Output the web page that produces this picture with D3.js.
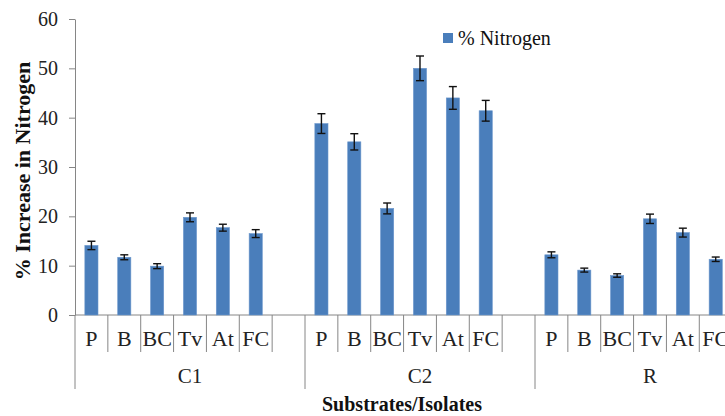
<!DOCTYPE html>
<html>
<head>
<meta charset="utf-8">
<script src="https://cdnjs.cloudflare.com/ajax/libs/d3/7.8.5/d3.min.js"></script>
<style>
  body { margin: 0; background: #fff; }
</style>
</head>
<body>
<div id="chart"></div>
<script>
// data
const groups = ["C1", "C2", "R"];
const isolates = ["P", "B", "BC", "Tv", "At", "FC"];
const nitrogenC1 = [14.1, 11.7, 9.9, 19.8, 17.7, 16.5];
const nitrogenC2 = [38.8, 35.1, 21.6, 50.0, 44.0, 41.4];
const nitrogenR = [12.2, 9.1, 8.0, 19.5, 16.7, 11.3];
const errC1 = [0.85, 0.5, 0.5, 0.9, 0.7, 0.8];
const errC2 = [2.0, 1.65, 1.1, 2.5, 2.3, 2.1];
const errR = [0.6, 0.4, 0.35, 0.95, 0.9, 0.45];
const yTicks = [0, 10, 20, 30, 40, 50, 60];

var width = 725;
var height = 416;
var serif = "'Liberation Serif', 'Times New Roman', serif";

var svg = d3.select("#chart")
    .append("svg")
    .attr("width", width)
    .attr("height", height)
    .style("display", "block");

var values = [nitrogenC1, nitrogenC2, nitrogenR];
var errors = [errC1, errC2, errR];
var data = [];
groups.forEach(function (g, gi) {
    isolates.forEach(function (iso, i) {
        data.push({ group: g, isolate: iso, value: values[gi][i], err: errors[gi][i] });
    });
});

// each group has 6 isolates plus one empty slot, plot runs past the right edge
var slots = isolates.concat([""]);

var x0 = d3.scaleBand()
    .domain(groups)
    .range([75, 765]);

var x1 = d3.scaleBand()
    .domain(slots)
    .range([0, x0.bandwidth()]);

var y = d3.scaleLinear()
    .domain([0, 60])
    .range([315, 19]);

var axisColor = "#868686";

// y axis
var yAxis = svg.append("g")
    .attr("transform", "translate(75,0)")
    .call(d3.axisLeft(y).tickValues(yTicks).tickSize(6).tickPadding(11).tickSizeOuter(0));
yAxis.attr("font-family", serif);
yAxis.select(".domain").attr("stroke", axisColor);
yAxis.selectAll(".tick line").attr("stroke", axisColor);
yAxis.selectAll(".tick text")
    .style("font-family", serif)
    .attr("font-size", 20)
    .attr("fill", "#222");

// x axis baseline
svg.append("line")
    .attr("x1", 75).attr("x2", 765)
    .attr("y1", y(0)).attr("y2", y(0))
    .attr("stroke", axisColor);

// category separators and labels
groups.forEach(function (g) {
    var gx = x0(g);
    slots.forEach(function (s, i) {
        if (i > 0) {
            svg.append("line")
                .attr("x1", gx + x1(s)).attr("x2", gx + x1(s))
                .attr("y1", y(0)).attr("y2", 352)
                .attr("stroke", axisColor);
        }
        if (s !== "") {
            svg.append("text")
                .attr("x", gx + x1(s) + x1.bandwidth() / 2)
                .attr("y", 346)
                .attr("text-anchor", "middle")
                .style("font-family", serif)
                .attr("font-size", 22)
                .attr("fill", "#222")
                .text(s);
        }
    });
    // group separator
    svg.append("line")
        .attr("x1", gx).attr("x2", gx)
        .attr("y1", y(0)).attr("y2", 389)
        .attr("stroke", axisColor);
    svg.append("text")
        .attr("x", gx + x0.bandwidth() / 2)
        .attr("y", 383)
        .attr("text-anchor", "middle")
        .style("font-family", serif)
        .attr("font-size", 21)
        .attr("fill", "#222")
        .text(g);
});

// bars
var barW = x1.bandwidth() * 0.4;
svg.append("g")
    .selectAll("rect")
    .data(data)
    .join("rect")
    .attr("x", d => x0(d.group) + x1(d.isolate) + (x1.bandwidth() - barW) / 2)
    .attr("y", d => y(d.value))
    .attr("width", barW)
    .attr("height", d => y(0) - y(d.value))
    .attr("fill", "#4a7ebb")
    .attr("stroke", "#6a96cc")
    .attr("stroke-width", 0.6);

// error bars
var eb = svg.append("g")
    .selectAll("g")
    .data(data)
    .join("g")
    .attr("stroke", "#111")
    .attr("stroke-width", 1.4);
eb.append("line")
    .attr("x1", d => x0(d.group) + x1(d.isolate) + x1.bandwidth() / 2)
    .attr("x2", d => x0(d.group) + x1(d.isolate) + x1.bandwidth() / 2)
    .attr("y1", d => y(d.value + d.err))
    .attr("y2", d => y(d.value - d.err));
["+", "-"].forEach(function (sgn) {
    eb.append("line")
        .attr("x1", d => x0(d.group) + x1(d.isolate) + x1.bandwidth() / 2 - 4)
        .attr("x2", d => x0(d.group) + x1(d.isolate) + x1.bandwidth() / 2 + 4)
        .attr("y1", d => y(sgn === "+" ? d.value + d.err : d.value - d.err))
        .attr("y2", d => y(sgn === "+" ? d.value + d.err : d.value - d.err));
});

// axis titles
svg.append("text")
    .attr("transform", "translate(30,171) rotate(-90)")
    .attr("text-anchor", "middle")
    .style("font-family", serif)
    .attr("font-size", 22)
    .attr("font-weight", "bold")
    .attr("fill", "#111")
    .text("% Increase in Nitrogen");

svg.append("text")
    .attr("x", 402)
    .attr("y", 411)
    .attr("text-anchor", "middle")
    .style("font-family", serif)
    .attr("font-size", 20)
    .attr("font-weight", "bold")
    .attr("fill", "#111")
    .text("Substrates/Isolates");

// legend
var legend = svg.append("g").attr("transform", "translate(443,33)");
legend.append("rect")
    .attr("width", 10).attr("height", 10)
    .attr("fill", "#4a7ebb");
legend.append("text")
    .attr("x", 15).attr("y", 12)
    .style("font-family", serif)
    .attr("font-size", 20)
    .attr("fill", "#111")
    .text("% Nitrogen");
</script>
</body>
</html>
